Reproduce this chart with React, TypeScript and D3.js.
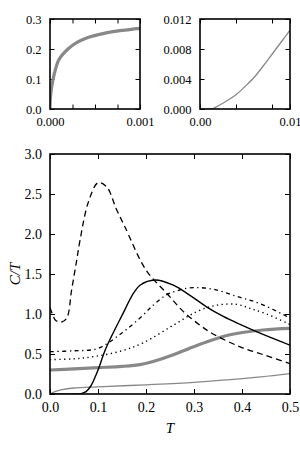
import React, { useEffect, useRef } from 'react';
import * as d3 from 'd3';

// main panel: C/T against T
const dashedT = [0, 0.005, 0.012, 0.024, 0.035, 0.045, 0.055, 0.0625, 0.08, 0.1, 0.118, 0.139, 0.156, 0.2, 0.243, 0.278, 0.3125, 0.337, 0.396, 0.45, 0.5];
const dashedC = [1.08, 1.0, 0.92, 0.9, 0.95, 1.3, 1.65, 1.92, 2.4, 2.64, 2.59, 2.3, 2.09, 1.55, 1.26, 1.03, 0.86, 0.76, 0.59, 0.48, 0.38];

const solidT = [0, 0.055, 0.065, 0.075, 0.085, 0.1, 0.115, 0.128, 0.149, 0.174, 0.1875, 0.219, 0.257, 0.29, 0.326, 0.361, 0.396, 0.4375, 0.5];
const solidC = [0, 0, 0.005, 0.03, 0.1, 0.3, 0.55, 0.72, 0.97, 1.26, 1.36, 1.425, 1.36, 1.24, 1.09, 0.97, 0.87, 0.76, 0.61];

const dashDotT = [0, 0.05, 0.1, 0.149, 0.1875, 0.215, 0.243, 0.27, 0.299, 0.34, 0.389, 0.4375, 0.5];
const dashDotC = [0.53, 0.54, 0.57, 0.76, 0.95, 1.11, 1.24, 1.3, 1.33, 1.31, 1.22, 1.13, 0.95];

const dottedT = [0, 0.05, 0.094, 0.15, 0.194, 0.257, 0.306, 0.347, 0.389, 0.417, 0.451, 0.5];
const dottedC = [0.43, 0.44, 0.47, 0.54, 0.64, 0.86, 1.03, 1.11, 1.12, 1.07, 1.0, 0.87];

const thickGrayT = [0, 0.05, 0.1, 0.15, 0.19, 0.22, 0.257, 0.29, 0.326, 0.375, 0.444, 0.5];
const thickGrayC = [0.3, 0.315, 0.33, 0.345, 0.37, 0.415, 0.49, 0.57, 0.65, 0.74, 0.8, 0.82];

const thinGrayT = [0, 0.01, 0.025, 0.05, 0.1, 0.2, 0.3, 0.375, 0.44, 0.5];
const thinGrayC = [0, 0.03, 0.055, 0.075, 0.09, 0.115, 0.145, 0.18, 0.215, 0.255];

// left inset
const insetAT = [0, 0.000003, 0.00001, 0.000025, 0.00005, 0.0001, 0.0002, 0.0003, 0.0004, 0.0006, 0.0008, 0.001];
const insetAC = [0, 0.03, 0.055, 0.085, 0.12, 0.165, 0.2, 0.222, 0.236, 0.252, 0.262, 0.269];

// right inset
const insetBT = [0, 0.001, 0.0015, 0.002, 0.003, 0.004, 0.005, 0.006, 0.007, 0.008, 0.009, 0.01];
const insetBC = [0, 0, 0.0001, 0.0004, 0.0011, 0.0019, 0.003, 0.0042, 0.0057, 0.0073, 0.0089, 0.0105];

const mainXTicks = [0, 0.1, 0.2, 0.3, 0.4, 0.5];
const mainYTicks = [0, 0.5, 1.0, 1.5, 2.0, 2.5, 3.0];
const insetAXTicks = [0, 0.00025, 0.0005, 0.00075, 0.001];
const insetAYTicks = [0, 0.1, 0.2, 0.3];
const insetBXTicks = [0, 0.004, 0.008, 0.01];
const insetBYTicks = [0, 0.004, 0.008, 0.012];

const FONT = "'Liberation Serif', 'Times New Roman', serif";

const zip = (xs: number[], ys: number[]) => xs.map((x, i) => [x, ys[i]] as [number, number]);

const App = () => {
  const svgRef = useRef<SVGSVGElement>(null);

  useEffect(() => {
    const svg = d3.select(svgRef.current);
    svg.selectAll('*').remove();

    const drawPanel = (opts: any) => {
      const { left, top, w, h, xDomain, yDomain, xTicks, yTicks, xFmt, yFmt, fs, pad, tick } = opts;
      const x = d3.scaleLinear().domain(xDomain).range([left, left + w]);
      const y = d3.scaleLinear().domain(yDomain).range([top + h, top]);
      const g = svg.append('g');

      const style = (sel: any, showText: boolean) => {
        sel.attr('font-family', null).attr('font-size', null);
        sel.select('.domain').remove();
        sel.selectAll('line').attr('stroke', 'black').attr('stroke-width', 1);
        sel.selectAll('text')
          .style('font-family', FONT)
          .style('font-size', `${fs}px`)
          .attr('fill', 'black')
          .style('display', showText ? null : 'none');
      };

      g.append('g').attr('transform', `translate(0,${top + h})`)
        .call(d3.axisBottom(x).tickValues(xTicks).tickSizeInner(-tick).tickSizeOuter(0).tickPadding(pad).tickFormat(xFmt))
        .call((s: any) => style(s, true));
      g.append('g').attr('transform', `translate(0,${top})`)
        .call(d3.axisTop(x).tickValues(xTicks).tickSizeInner(-tick).tickSizeOuter(0).tickFormat(() => ''))
        .call((s: any) => style(s, false));
      g.append('g').attr('transform', `translate(${left},0)`)
        .call(d3.axisLeft(y).tickValues(yTicks).tickSizeInner(-tick).tickSizeOuter(0).tickPadding(pad).tickFormat(yFmt))
        .call((s: any) => style(s, true));
      g.append('g').attr('transform', `translate(${left + w},0)`)
        .call(d3.axisRight(y).tickValues(yTicks).tickSizeInner(-tick).tickSizeOuter(0).tickFormat(() => ''))
        .call((s: any) => style(s, false));

      const clipId = `clip-${left}-${top}`;
      svg.append('clipPath').attr('id', clipId)
        .append('rect').attr('x', left).attr('y', top - 2).attr('width', w).attr('height', h + 2);

      const plot = svg.append('g').attr('clip-path', `url(#${clipId})`);
      const line = d3.line<[number, number]>()
        .x(d => x(d[0]))
        .y(d => y(d[1]))
        .curve(d3.curveCatmullRom.alpha(0.5));

      const addLine = (pts: [number, number][], color: string, width: number, dash: string | null) => {
        plot.append('path')
          .datum(pts)
          .attr('fill', 'none')
          .attr('stroke', color)
          .attr('stroke-width', width)
          .attr('stroke-dasharray', dash)
          .attr('d', line);
      };

      svg.append('rect')
        .attr('x', left).attr('y', top).attr('width', w).attr('height', h)
        .attr('fill', 'none').attr('stroke', 'black').attr('stroke-width', 1.6);

      return { x, y, addLine };
    };

    // left inset
    const a = drawPanel({
      left: 50, top: 19, w: 90, h: 90,
      xDomain: [0, 0.001], yDomain: [0, 0.3],
      xTicks: insetAXTicks, yTicks: insetAYTicks,
      xFmt: (d: number) => (d === 0 || d === 0.001 ? d3.format('.3f')(d) : ''),
      yFmt: d3.format('.1f'), fs: 12.5, pad: 8.5, tick: 4.5,
    });
    a.addLine(zip(insetAT, insetAC), '#888', 3.2, null);

    // right inset
    const b = drawPanel({
      left: 200, top: 19, w: 90, h: 90,
      xDomain: [0, 0.01], yDomain: [0, 0.012],
      xTicks: insetBXTicks, yTicks: insetBYTicks,
      xFmt: (d: number) => (d === 0 || d === 0.01 ? d3.format('.2f')(d) : ''),
      yFmt: d3.format('.3f'), fs: 12.5, pad: 8.5, tick: 4.5,
    });
    b.addLine(zip(insetBT, insetBC), '#888', 1.3, null);

    // main panel
    const m = drawPanel({
      left: 50, top: 154, w: 240, h: 240,
      xDomain: [0, 0.5], yDomain: [0, 3],
      xTicks: mainXTicks, yTicks: mainYTicks,
      xFmt: d3.format('.1f'), yFmt: d3.format('.1f'), fs: 14, pad: 8, tick: 5,
    });
    m.addLine(zip(thinGrayT, thinGrayC), '#888', 1.3, null);
    m.addLine(zip(thickGrayT, thickGrayC), '#888', 3.2, null);
    m.addLine(zip(dottedT, dottedC), 'black', 1.4, '1.3,3.4');
    m.addLine(zip(dashDotT, dashDotC), 'black', 1.3, '4,3.5,1.3,3.5');
    m.addLine(zip(solidT, solidC), 'black', 1.4, null);
    m.addLine(zip(dashedT, dashedC), 'black', 1.3, '6,4');

    svg.append('text')
      .attr('x', 170).attr('y', 433)
      .attr('text-anchor', 'middle')
      .style('font-family', FONT).style('font-size', '15px').style('font-style', 'italic')
      .text('T');

    svg.append('text')
      .attr('transform', 'translate(20,274) rotate(-90)')
      .attr('text-anchor', 'middle')
      .style('font-family', FONT).style('font-size', '15px').style('font-style', 'italic')
      .text('C/T');
  }, []);

  return (
    <svg
      ref={svgRef}
      width={300}
      height={450}
      viewBox="0 0 300 450"
      style={{ position: 'absolute', left: 0, top: 0, background: 'white' }}
    />
  );
};

export default App;
